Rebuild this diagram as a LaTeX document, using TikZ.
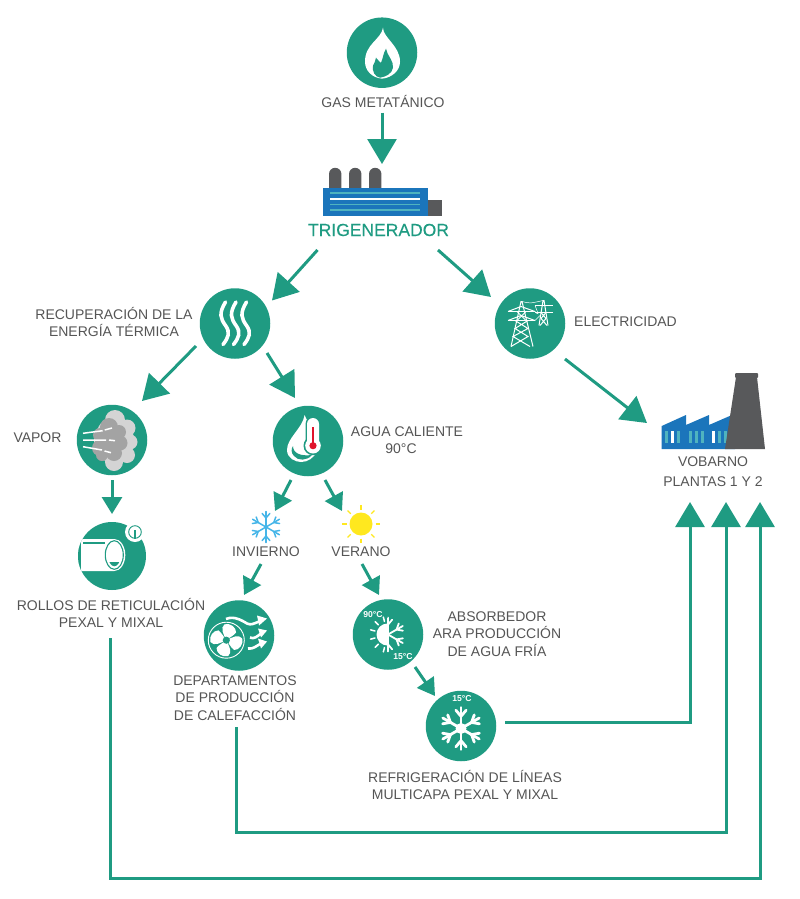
\documentclass[tikz,border=0pt]{standalone}
\usepackage{fontspec}
\setmainfont{Liberation Sans}
\newfontfamily\trifont[FakeBold=0.25]{Liberation Sans}
\usetikzlibrary{arrows.meta,calc}
\definecolor{teal1}{HTML}{1F9B82}
\definecolor{txt}{HTML}{555555}
\definecolor{blue1}{HTML}{1B75BB}
\definecolor{lblue}{HTML}{4FB3BF}
\definecolor{dgray}{HTML}{58595B}
\definecolor{sky}{HTML}{45B5E8}
\definecolor{sunny}{HTML}{FFE81F}
\definecolor{redt}{HTML}{E0142C}
\definecolor{cloudA}{HTML}{D4D4D4}
\definecolor{cloudB}{HTML}{A3A3A3}
\newcommand{\flake}[3]{%
  \foreach \a in {0,60,...,300}{%
    \begin{scope}[rotate=\a]
      \draw[#3,line width=#2,line cap=round] (0,0) -- (#1,0);
      \draw[#3,line width=#2,line cap=round] (0.58*#1,0) -- ++(40:0.38*#1);
      \draw[#3,line width=#2,line cap=round] (0.58*#1,0) -- ++(-40:0.38*#1);
    \end{scope}}}
\tikzset{
  disc/.style={circle,fill=teal1,minimum size=70.5pt,inner sep=0pt,outer sep=0pt},
  lab/.style={font=\fontsize{14}{17.2}\selectfont,text=txt,align=center,inner sep=0pt,outer sep=0pt},
  big/.style={draw=teal1,line width=3pt,-{Triangle[length=25pt,width=29pt,fill=teal1]}},
  small/.style={draw=teal1,line width=3pt,-{Triangle[length=17pt,width=20pt,fill=teal1]}},
  wv/.style={draw=white,line width=3.6pt,line cap=round},
  wt/.style={text=white,font=\fontsize{8.6}{9}\selectfont\bfseries,inner sep=0pt}
}
\begin{document}
\begin{tikzpicture}[x=1pt,y=-1pt]
\useasboundingbox (0,0) rectangle (800,899);
% ---- discs
\node[disc] (gas) at (382,52.7) {};
\node[disc] (thermal) at (235,323.5) {};
\node[disc] (elec) at (530,323.5) {};
\node[disc] (vapor) at (112,440) {};
\node[disc] (agua) at (308,441) {};
\node[disc,minimum size=68pt] (rollos) at (112,556) {};
\node[disc] (fan) at (239,635.5) {};
\node[disc] (absorb) at (388,634.5) {};
\node[disc] (refrig) at (461,726) {};
% ---- labels
\node[lab] (lgas) at (383,101) {GAS METATÁNICO};
\node[font=\trifont\fontsize{17.5}{20}\selectfont,text=teal1,inner sep=0pt] (ltri) at (378.5,230) {TRIGENERADOR};
\node[lab] (lrec) at (114,322) {RECUPERACIÓN DE LA\\ENERGÍA TÉRMICA};
\node[lab] (lelec) at (625.5,322) {ELECTRICIDAD};
\node[lab] (lvob) at (713,472) {VOBARNO\\[2.8pt]PLANTAS 1 Y 2};
\node[lab] (lvap) at (37.5,438) {VAPOR};
\node[lab] (lagua) at (407,440) {AGUA CALIENTE\\90°C\hspace*{12pt}};
\node[lab] (lrol) at (111,613) {ROLLOS DE RETICULACIÓN\\PEXAL Y MIXAL};
\node[lab] (linv) at (266,552) {INVIERNO};
\node[lab] (lver) at (361,552) {VERANO};
\node[lab] (labs) at (497,634) {ABSORBEDOR\\ARA PRODUCCIÓN\\DE AGUA FRÍA};
\node[lab] (ldep) at (235,698) {DEPARTAMENTOS\\DE PRODUCCIÓN\\DE CALEFACCIÓN};
\node[lab] (lref) at (465,785) {REFRIGERACIÓN DE LÍNEAS\\MULTICAPA PEXAL Y MIXAL};
% ---- trigenerator
\coordinate (tri) at (378,200);
\foreach \x in {329,349,369}{
  \fill[dgray] (\x,188) -- (\x,174) arc[start angle=180,end angle=360,radius=6.2] -- (\x+12.4,188) -- cycle;}
\fill[blue1] (323,188) rectangle (428,216);
\fill[dgray] (428,200) rectangle (442,216);
\foreach \y/\c in {193/lblue,199/white,204.5/lblue,210/lblue}{
  \draw[\c,line width=1.8pt] (330,\y) -- (420,\y);}
% ---- factory
\coordinate (vob) at (714,420);
\fill[blue1] (661.7,449) -- (661.7,426) -- (686,415) -- (686,425) -- (709,415) -- (709,425) -- (732,415) -- (735,449) -- cycle;
\foreach \x/\c in {666/lblue,672/white,678/lblue,690/lblue,696/lblue,702/lblue,713/white,719/lblue,725/lblue}{
  \fill[\c] (\x-1.5,431) rectangle (\x+1.5,443);}
\fill[dgray] (736,377) -- (725,449) -- (765,449) -- (757,377) -- cycle;
\fill[dgray,rounded corners=1pt] (735,373) rectangle (758,378);
% ---- flame
\begin{scope}[shift={(gas.center)}]
  \fill[white] (1,-25) .. controls (1,-15) and (18,-7) .. (18,9) .. controls (18,18) and (10,25) .. (0,26)
    .. controls (-10,25) and (-17,18) .. (-17,9) .. controls (-17,-9) and (-1,-13) .. (1,-25) -- cycle;
  \fill[teal1] (4,-4) .. controls (5,3) and (12,8) .. (11,15) .. controls (10,21) and (4,24) .. (-2,25)
    .. controls (-7,24) and (-10,19) .. (-9,13) .. controls (-8,10) and (-6,8) .. (-6,5)
    .. controls (-4,7) and (-2,10) .. (-1,10) .. controls (1,6) and (1,1) .. (4,-4) -- cycle;
\end{scope}
% ---- waves
\begin{scope}[shift={(thermal.center)}]
  \foreach \dx in {-10.5,0,10.5}{
    \draw[wv,xshift=\dx pt] (1,-21.5) .. controls (-6,-10) and (-4,-5) .. (1,2)
      .. controls (6,9) and (4,14) .. (-1.5,21);}
\end{scope}
% ---- pylons
\begin{scope}[shift={(elec.center)},draw=white,line width=1pt]
  \draw (-19,23) -- (-9,-22) -- (-8,-22) -- (3,23);
  \draw[line width=1.6pt] (-22,-12) -- (5,-12) (-22,-3) -- (5,-3);
  \draw (-22,-12) -- (-9,-17) -- (5,-12) (-22,-3) -- (-9,-8) -- (5,-3);
  \draw (-15,-3) -- (-2,5) -- (-17,13) -- (0,23) (-2,-3) -- (-15,5) -- (-2,13) -- (-19,23);
  \draw (-13,-12) -- (-4,-3) (-4,-12) -- (-13,-3);
  \draw (9,2) -- (13,-23) -- (14,-23) -- (18,2);
  \draw[line width=1.4pt] (5,-18) -- (23,-18) (5,-11) -- (23,-11);
  \draw (11,-11) -- (16,-5) -- (10,2) (16,-11) -- (11,-5) -- (17,2);
  \draw[line width=0.5pt] (-8,-22) .. controls (0,-20) .. (13,-23) (5,-12) .. controls (9,-8) .. (5,-18) (5,-3) .. controls (8,-5) .. (10,-8);
\end{scope}
% ---- cloud
\begin{scope}[shift={(vapor.center)}]
  \foreach \p/\r in {{3,-20}/10,{15,-12}/8.5,{18,2}/7.5,{15,15}/8,{2,22}/9,{2,0}/20,{-5,-10}/9,{-5,12}/9}{
    \fill[cloudA] (\p) circle (\r);}
  \foreach \p/\r in {{-3,-13}/9,{7,-8}/7,{8,3}/7.5,{2,13}/8,{-10,15}/6,{-3,1}/14,{-12,-5}/7,{-12,8}/8}{
    \fill[cloudB] (\p) circle (\r);}
  \draw[white,line width=1.5pt] (-29,-6.7) -- (-9.3,-9.3) (-7.3,-10) -- (0,-12);
  \draw[white,line width=1.5pt] (-29,0) -- (-6,0) (-3,0) -- (3,0.7);
  \draw[white,line width=1.5pt] (-29,6.7) -- (-10,10) (-7.5,11) -- (-1,12.7);
\end{scope}
% ---- drop and thermometer
\begin{scope}[shift={(agua.center)}]
  \fill[white] (-3.3,-26) .. controls (-6,-12) and (-21,-3) .. (-21,9) .. controls (-21,17) and (-13,21) .. (-7,21)
    .. controls (0,21) and (6,17) .. (9,10) -- (5,-15) .. controls (2,-18) and (-1,-19) .. (-3.3,-26) -- cycle;
  \fill[teal1] (-15,5) .. controls (-15,12) and (-8,15.5) .. (4,14) .. controls (-1,20) and (-10,20) .. (-14,15)
    .. controls (-17,12) and (-17,8) .. (-15,5) -- cycle;
  \fill[teal1] (-2.5,-17) arc[start angle=180,end angle=360,radius=7.5] -- (12.5,4) -- (-2.5,4) -- cycle;
  \fill[teal1] (5,4.7) circle (9.5);
  \fill[white] (-1,-17) arc[start angle=180,end angle=360,radius=6] -- (11,4) -- (-1,4) -- cycle;
  \fill[white] (5,4.7) circle (7.8);
  \fill[redt] (5,4.7) circle (3.6);
  \draw[redt,line width=1.8pt] (5,4) -- (5,-14);
\end{scope}
% ---- pipe
\begin{scope}
  \clip (rollos.center) circle (34);
  \begin{scope}[shift={(rollos.center)}]
    \fill[white] (-40,-17) -- (2.3,-17) arc[start angle=-90,end angle=90,x radius=11,y radius=16] -- (-40,15) -- cycle;
    \draw[teal1,line width=1.1pt] (-29,-13) -- (-7,-13);
    \draw[teal1,line width=1.1pt] (2.3,-1) ellipse (9 and 14.3);
    \begin{scope}
      \clip (-10,6) rectangle (14,15);
      \fill[teal1] (2.3,-1) ellipse (6.3 and 11.3);
    \end{scope}
    \fill[teal1] (-34,-17) rectangle (-31,16);
  \end{scope}
\end{scope}
\begin{scope}[shift={(rollos.center)}]
  \fill[white] (23,-24) circle (10);
  \draw[teal1,line width=0.9pt] (23,-24) circle (6.3);
  \draw[teal1,line width=1.4pt] (23,-26) -- (23,-17);
\end{scope}
% ---- fan
\begin{scope}[shift={(fan.center)}]
  \begin{scope}[shift={(-12.7,4.7)}]
    \draw[white,line width=0.9pt] (0,0) circle (18);
    \foreach \a in {0,90,180,270}{
      \fill[white,rotate=\a+10] (0,0) .. controls (-2,-7) and (-4,-13) .. (1,-16)
        .. controls (7,-16.5) and (12,-11) .. (11,-6) .. controls (8,-3) and (3,-2) .. (0,0) -- cycle;}
    \fill[teal1] (0,0) circle (3.6);
  \end{scope}
  \draw[white,line width=2.6pt] (-13,-16.5) .. controls (-5,-20) and (3,-15) .. (8,-12) .. controls (12,-10) and (15,-12) .. (20,-14);
  \fill[white] (28,-17) -- (18,-20) -- (20,-10) -- cycle;
  \draw[white,line width=2.6pt] (11,2) .. controls (15,4) and (18,1) .. (22,-2);
  \fill[white] (28,-5) -- (19,-7) -- (22,2) -- cycle;
  \draw[white,line width=2.6pt] (9,13) .. controls (14,14) and (18,10) .. (22,8);
  \fill[white] (28,6) -- (19,3) -- (22,13) -- cycle;
\end{scope}
% ---- absorber
\begin{scope}[shift={(absorb.center)}]
  \fill[white] (-0.5,-11) arc[start angle=270,end angle=90,radius=11] -- cycle;
  \foreach \a in {105,135,165,195,225,255}{
    \draw[white,line width=1.5pt,line cap=round] (\a:13.5) -- (\a:18);}
  \draw[white,line width=1.8pt] (-0.5,-17) -- (-0.5,17);
  \begin{scope}
    \clip (-0.5,-22) rectangle (25,22);
    \begin{scope}[rotate=90]
      \flake{17}{1.8pt}{white}
    \end{scope}
  \end{scope}
  \node[wt] (t90) at (-15,-20) {90°C};
  \node[wt] (t15) at (15,22) {15°C};
\end{scope}
% ---- refrigeration flake
\begin{scope}[shift={(refrig.center)}]
  \begin{scope}[shift={(0,2.5)},rotate=90]
    \flake{21}{2.8pt}{white}
  \end{scope}
  \fill[white] (0,2.5) circle (5.5);
  \node[wt] (t15b) at (1,-27) {15°C};
\end{scope}
% ---- winter / summer icons
\begin{scope}[shift={(266,527)},rotate=90]
  \flake{15.5}{1.5pt}{sky}
\end{scope}
\coordinate (snow) at (266,527);
\fill[sunny] (361,524) circle (11.5);
\coordinate (sun) at (361,524);
\foreach \a in {0,45,...,315}{
  \draw[sunny,line width=1.2pt] ($(sun)+(\a:14.5)$) -- ($(sun)+(\a:19)$);}
% ---- connectors
\coordinate (in1) at (690,502);
\coordinate (in2) at (726,502);
\coordinate (in3) at (760,502);
\draw[big] ($(gas)+(0,60)$) -- ($(tri)+(4,-36)$);
\draw[big] ($(ltri)+(-61,20)$) -- ($(thermal)+(37,-23)$);
\draw[big] ($(ltri)+(59.5,20)$) -- ($(elec)+(-39,-26.5)$);
\draw[big] ($(thermal)+(-39,22.5)$) -- ($(vapor)+(30,-39)$);
\draw[big] ($(thermal)+(32,29.5)$) -- ($(agua)+(-13,-43)$);
\draw[big] ($(elec)+(35,35.5)$) -- ($(vob)+(-67,3)$);
\draw[small] ($(vapor)+(0,40)$) -- ($(rollos)+(0,-42)$);
\draw[small] ($(agua)+(-17,39)$) -- ($(snow)+(9,-16)$);
\draw[small] ($(agua)+(17,39)$) -- ($(sun)+(-19,-13)$);
\draw[small] ($(linv)+(-5,12)$) -- ($(fan)+(5,-40.5)$);
\draw[small] ($(lver)+(1,12)$) -- ($(absorb)+(-9,-39.5)$);
\draw[small] ($(absorb)+(27,32.5)$) -- ($(refrig)+(-26,-30)$);
\draw[big] ($(refrig)+(44,-4)$) -| (in1);
\draw[big] ($(ldep)+(1,29)$) |- ($(in2)+(0,330)$) -- (in2);
\draw[big] ($(lrol)+(-1,25)$) |- ($(in3)+(0,376)$) -- (in3);
\end{tikzpicture}
\end{document}
